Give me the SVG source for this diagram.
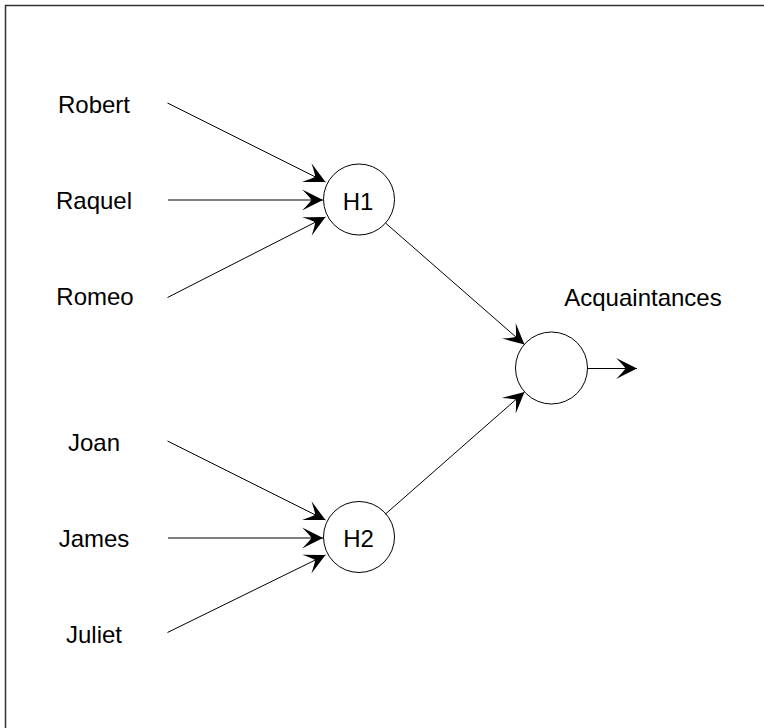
<svg xmlns="http://www.w3.org/2000/svg" width="764" height="728" viewBox="0 0 764 728">
  <style>
    .lbl { font-family: "Liberation Sans", Arial, sans-serif; font-size: 24px; fill: #000; text-anchor: middle; }
    .node { fill: #fff; stroke: #000; stroke-width: 1; }
    .edge { stroke: #000; stroke-width: 1; fill: none; marker-end: url(#arrow); }
  </style>
  <defs>
    <marker id="arrow" markerUnits="userSpaceOnUse" markerWidth="24" markerHeight="24" viewBox="-21 -11 23 22" refX="0" refY="0" orient="auto">
      <path d="M0,0 Q-8,-4 -20,-10 Q-13,-3 -11,0 Q-13,3 -20,10 Q-8,4 0,0 Z" fill="#000"/>
    </marker>
  </defs>

  <rect x="0" y="0" width="764" height="728" fill="#fff"/>
  <!-- outer frame -->
  <path d="M5.5,728 V5.5 H764" fill="none" stroke="#333" stroke-width="1.5"/>

  <!-- input labels -->
  <g id="robert"><text class="lbl" x="94" y="113">Robert</text></g>
  <g id="raquel"><text class="lbl" x="94" y="209">Raquel</text></g>
  <g id="romeo"><text class="lbl" x="95" y="305">Romeo</text></g>
  <g id="joan"><text class="lbl" x="94" y="451">Joan</text></g>
  <g id="james"><text class="lbl" x="94" y="547">James</text></g>
  <g id="juliet"><text class="lbl" x="94" y="643">Juliet</text></g>

  <!-- hidden units -->
  <g id="h1">
    <circle class="node" cx="359" cy="199.5" r="35.5"/>
    <text class="lbl" x="358" y="210">H1</text>
  </g>
  <g id="h2">
    <circle class="node" cx="359" cy="537" r="35.5"/>
    <text class="lbl" x="358.5" y="547">H2</text>
  </g>

  <!-- output unit -->
  <g id="output">
    <circle class="node" cx="551.5" cy="368" r="36"/>
    <text class="lbl" x="643" y="306">Acquaintances</text>
  </g>

  <!-- connectors -->
  <g id="connectors">
    <line class="edge" x1="167.5" y1="103" x2="325.5" y2="182"/>
    <line class="edge" x1="168" y1="200" x2="323" y2="200"/>
    <line class="edge" x1="167.5" y1="297.5" x2="325.5" y2="217"/>
    <line class="edge" x1="167.5" y1="441" x2="325.5" y2="520"/>
    <line class="edge" x1="168" y1="538" x2="323" y2="538"/>
    <line class="edge" x1="167.5" y1="632.5" x2="325.5" y2="555"/>
    <line class="edge" x1="385.5" y1="223" x2="524.5" y2="344.5"/>
    <line class="edge" x1="385.5" y1="514" x2="524.5" y2="392"/>
    <line class="edge" x1="587.5" y1="368.5" x2="637" y2="368.5"/>
  </g>
</svg>
